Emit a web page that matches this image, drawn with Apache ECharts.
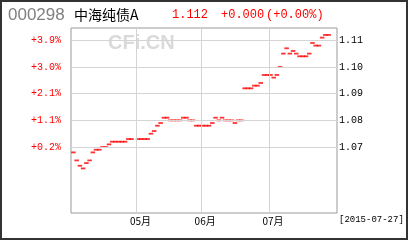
<!DOCTYPE html>
<html>
<head>
<meta charset="utf-8">
<style>
html,body{margin:0;padding:0;background:#fff;}
#c{width:408px;height:240px;}
</style>
<script src="https://cdn.jsdelivr.net/npm/echarts@6/dist/echarts.min.js"></script>
</head>
<body>
<div id="c"></div>
<script>
var fundCode = '000298';
var fundName = '中海纯债A';
var watermark = 'CFi.CN';
var dates = [
 '2015-04-02','2015-04-03','2015-04-07','2015-04-08','2015-04-09','2015-04-10',
 '2015-04-13','2015-04-14','2015-04-15','2015-04-16','2015-04-17',
 '2015-04-20','2015-04-21','2015-04-22','2015-04-23','2015-04-24',
 '2015-04-27','2015-04-28','2015-04-29','2015-04-30',
 '2015-05-04','2015-05-05','2015-05-06','2015-05-07','2015-05-08',
 '2015-05-11','2015-05-12','2015-05-13','2015-05-14','2015-05-15',
 '2015-05-18','2015-05-19','2015-05-20','2015-05-21','2015-05-22',
 '2015-05-25','2015-05-26','2015-05-27','2015-05-28','2015-05-29',
 '2015-06-01','2015-06-02','2015-06-03','2015-06-04','2015-06-05',
 '2015-06-08','2015-06-09','2015-06-10','2015-06-11','2015-06-12',
 '2015-06-15','2015-06-16','2015-06-17','2015-06-18','2015-06-19',
 '2015-06-23','2015-06-24','2015-06-25','2015-06-26',
 '2015-06-29','2015-06-30',
 '2015-07-01','2015-07-02','2015-07-03',
 '2015-07-06','2015-07-07','2015-07-08','2015-07-09','2015-07-10',
 '2015-07-13','2015-07-14','2015-07-15','2015-07-16','2015-07-17',
 '2015-07-20','2015-07-21','2015-07-22','2015-07-23','2015-07-24',
 '2015-07-27'
];
var nav = [
 1.068,1.065,1.063,1.062,1.064,1.065,
 1.068,1.069,1.069,1.070,1.070,
 1.071,1.072,1.072,1.072,1.072,
 1.072,1.073,1.073,null,
 1.073,1.073,1.073,1.073,1.075,
 1.076,1.078,1.079,1.081,1.081,
 1.080,1.080,1.080,1.080,1.081,
 1.081,1.080,1.080,1.078,1.078,
 1.078,1.078,1.078,1.079,1.081,
 1.080,1.081,1.080,1.080,1.080,
 1.079,1.080,1.080,1.092,1.092,
 1.092,1.093,1.093,1.094,
 1.097,1.097,
 1.097,1.096,1.097,
 1.100,1.105,1.107,1.105,1.106,
 1.105,1.104,1.104,1.104,1.105,
 1.109,1.108,1.108,1.111,1.112,
 1.112
];
var rightTicks = [1.07, 1.08, 1.09, 1.10, 1.11];
var leftTickLabels = ['+0.2%', '+1.1%', '+2.1%', '+3.0%', '+3.9%'];

var points = [];
nav.forEach(function (v, i) { if (v !== null) points.push([i, v]); });
var monthStarts = [];
dates.forEach(function (d, i) {
  if (i > 0 && d.slice(5, 7) !== dates[i - 1].slice(5, 7)) monthStarts.push(i);
});
var last = nav[nav.length - 1];
var prev = nav[nav.length - 2];
var chg = last - prev;
var pct = chg / prev * 100;
function sgn(x, n) { return (x >= 0 ? '+' : '-') + Math.abs(x).toFixed(n); }

var chart = echarts.init(document.getElementById('c'), null, {renderer: 'canvas'});
var gridLines = [];
monthStarts.forEach(function (i) { gridLines.push({xAxis: i - 0.5}); });
rightTicks.forEach(function (t) { gridLines.push({yAxis: t}); });

var mono = 'Liberation Mono';
chart.setOption({
  animation: false,
  grid: {left: 71, right: 71, top: 28, bottom: 27, show: true, borderColor: '#999', borderWidth: 1, containLabel: false, outerBoundsMode: 'none'},
  xAxis: {
    type: 'value', min: -0.75, max: 81.6,
    axisLine: {show: false}, axisTick: {show: false}, splitLine: {show: false},
    axisLabel: {
      customValues: monthStarts,
      margin: 3, color: '#000', fontSize: 10, fontFamily: 'Noto Sans CJK SC',
      padding: [0, 0, 0, 5],
      formatter: function (v) { return dates[Math.round(v)].slice(5, 7) + '月'; }
    }
  },
  yAxis: [{
    type: 'value', position: 'right', min: 1.0453, max: 1.1146,
    axisLine: {show: false}, splitLine: {show: false},
    axisTick: {show: true, customValues: rightTicks, length: 3, lineStyle: {color: '#999'}},
    axisLabel: {customValues: rightTicks, margin: 2, color: '#000', fontSize: 10, fontFamily: mono,
      formatter: function (v) { return v.toFixed(2); }}
  }, {
    type: 'value', position: 'left', min: 1.0453, max: 1.1146,
    axisLine: {show: false}, splitLine: {show: false}, axisTick: {show: false},
    axisLabel: {customValues: rightTicks, margin: 10, color: '#f00', fontSize: 10, fontFamily: mono,
      formatter: function (v) {
        var k = rightTicks.findIndex(function (t) { return Math.abs(t - v) < 1e-6; });
        return k >= 0 ? leftTickLabels[k] : '';
      }}
  }],
  graphic: [
    {type: 'rect', shape: {x: 1, y: 1, width: 406, height: 238}, style: {fill: 'none', stroke: '#333', lineWidth: 2}, z: 100},
    {type: 'text', x: 8, y: 15, style: {text: fundCode, fill: '#808080', font: '17px "Liberation Sans"', verticalAlign: 'middle'}},
    {type: 'text', x: 74, y: 15, style: {text: fundName, fill: '#000', font: '14px "Noto Sans CJK SC"', verticalAlign: 'middle'}},
    {type: 'text', x: 172, y: 15, style: {text: last.toFixed(3), fill: '#f00', font: '12px "Liberation Mono"', verticalAlign: 'middle'}},
    {type: 'text', x: 221, y: 15, style: {text: sgn(chg, 3), fill: '#f00', font: '12px "Liberation Mono"', verticalAlign: 'middle'}},
    {type: 'text', x: 266, y: 15, style: {text: '(' + sgn(pct, 2) + '%)', fill: '#f00', font: '12px "Liberation Mono"', verticalAlign: 'middle'}},
    {type: 'text', x: 108, y: 43, style: {text: watermark, fill: '#dadada', font: 'bold 20px "Liberation Sans"', verticalAlign: 'middle'}},
    {type: 'text', x: 339, y: 220, style: {text: '[' + dates[dates.length - 1] + ']', fill: '#000', font: '9px "Liberation Mono"', verticalAlign: 'middle'}}
  ],
  series: [{
    type: 'scatter', xAxisIndex: 0, yAxisIndex: 0,
    data: points,
    symbol: 'rect', symbolSize: [4.5, 1.8],
    itemStyle: {color: '#ff0000'},
    silent: true,
    markLine: {
      silent: true, symbol: 'none', animation: false,
      label: {show: false},
      lineStyle: {color: '#d4d4d4', type: 'solid', width: 1},
      data: gridLines
    }
  }]
});
</script>
</body>
</html>
